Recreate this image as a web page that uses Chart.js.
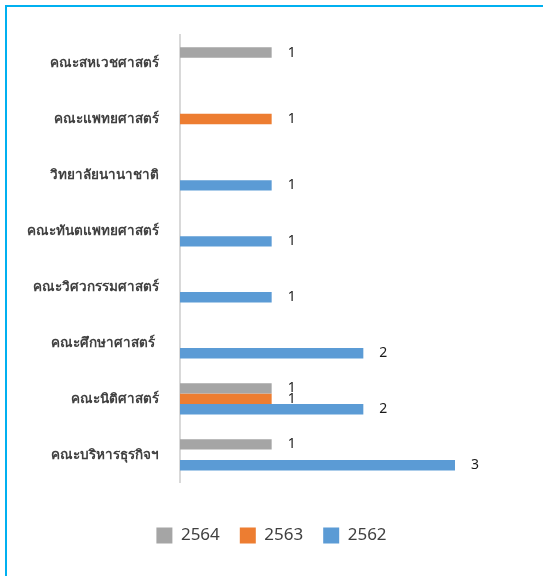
<!DOCTYPE html>
<html>
<head>
<meta charset="utf-8">
<script src="https://cdn.jsdelivr.net/npm/chart.js@4"></script>
<style>
    html, body { margin: 0; padding: 0; background: #fff; overflow: hidden; }
    #frame {
        position: absolute; left: 5px; top: 5px; width: 600px; height: 600px;
        border-top: 2px solid #00b0f0; border-left: 2px solid #00b0f0;
    }
    #wrap { position: absolute; left: 0; top: 0; width: 543px; height: 576px; }
</style>
</head>
<body>
<div id="frame"></div>
<div id="wrap"><canvas id="facultyChart" width="543" height="576"></canvas></div>
<script>
// ===== DATA =====
const categories = [
    'คณะสหเวชศาสตร์',
    'คณะแพทยศาสตร์',
    'วิทยาลัยนานาชาติ',
    'คณะทันตแพทยศาสตร์',
    'คณะวิศวกรรมศาสตร์',
    'คณะศึกษาศาสตร์ ',
    'คณะนิติศาสตร์',
    'คณะบริหารธุรกิจฯ'
];
const values2564 = [1, null, null, null, null, null, 1, 1];
const values2563 = [null, 1, null, null, null, null, 1, null];
const values2562 = [null, null, 1, 1, 1, 2, 2, 3];

const textColor = '#404040';
const thaiFont = "'Noto Sans', 'DejaVu Sans', sans-serif";

// value labels at the end of each bar
const barValueLabels = {
    id: 'barValueLabels',
    afterDatasetsDraw(chart) {
        const ctx = chart.ctx;
        ctx.save();
        ctx.fillStyle = '#1a1a1a';
        ctx.font = '14px ' + thaiFont;
        ctx.textAlign = 'left';
        ctx.textBaseline = 'middle';
        chart.data.datasets.forEach((ds, i) => {
            const meta = chart.getDatasetMeta(i);
            meta.data.forEach((bar, j) => {
                const v = ds.data[j];
                if (v === null || v === undefined) return;
                ctx.fillText(String(v), bar.x + 16, bar.y);
            });
        });
        ctx.restore();
    }
};

function createFacultyChart() {
    const ctx = document.getElementById('facultyChart');
    if (!ctx) return;

    new Chart(ctx, {
        type: 'bar',
        data: {
            labels: categories,
            datasets: [{
                label: '2564',
                data: values2564,
                backgroundColor: '#a5a5a5'
            }, {
                label: '2563',
                data: values2563,
                backgroundColor: '#ed7d31'
            }, {
                label: '2562',
                data: values2562,
                backgroundColor: '#5b9bd5'
            }]
        },
        options: {
            indexAxis: 'y',
            responsive: false,
            animation: false,
            devicePixelRatio: 1,
            barPercentage: 1,
            categoryPercentage: 0.56,
            layout: {
                padding: { top: 35, right: 0, left: 0, bottom: 22 }
            },
            plugins: {
                tooltip: { enabled: false },
                legend: {
                    position: 'bottom',
                    title: {
                        display: true,
                        text: '',
                        font: { size: 1 },
                        padding: { top: 0, bottom: 23 }
                    },
                    labels: {
                        boxWidth: 16,
                        boxHeight: 16,
                        padding: 20,
                        color: textColor,
                        font: { family: thaiFont, size: 17 }
                    }
                }
            },
            scales: {
                x: {
                    display: false,
                    min: 0,
                    max: 3.96
                },
                y: {
                    afterFit(scale) { scale.width = 180; },
                    grid: { display: false, drawTicks: false },
                    border: { display: true, color: '#d9d9d9', width: 2 },
                    ticks: {
                        padding: 21,
                        color: textColor,
                        font: { family: thaiFont, size: 13.5, weight: 'bold' }
                    }
                }
            }
        },
        plugins: [barValueLabels]
    });
}

createFacultyChart();
</script>
</body>
</html>
